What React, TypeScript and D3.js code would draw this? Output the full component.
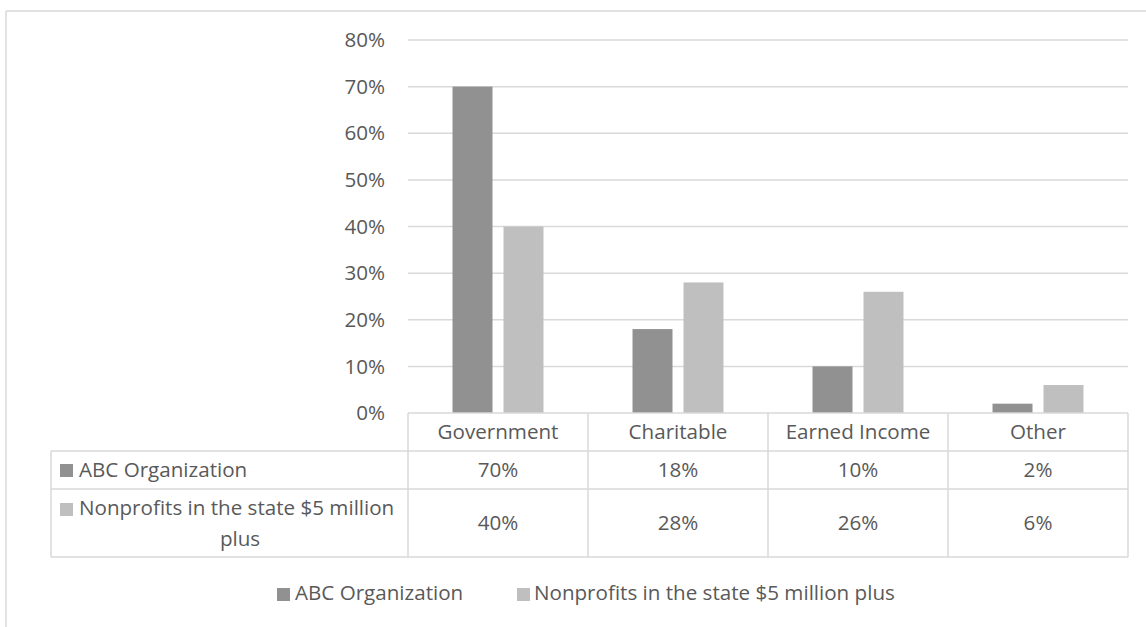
import React from "react";
import * as d3 from "d3";

const categories = ["Government", "Charitable", "Earned Income", "Other"];
const seriesNames = ["ABC Organization", "Nonprofits in the state $5 million plus"];
const abcValues = [70, 18, 10, 2];
const nonprofitValues = [40, 28, 26, 6];
const yTicks = [0, 10, 20, 30, 40, 50, 60, 70, 80];
const colors = ["#919191", "#bfbfbf"];

const W = 1146;
const H = 627;
const FONT = "'Open Sans', 'Noto Sans', sans-serif";
const TEXT = "#595959";
const LINE = "#d9d9d9";

export default function App() {
  const plotLeft = 408;
  const plotRight = 1128;
  const plotTop = 40;
  const plotBottom = 413;
  const x = d3.scaleBand<string>().domain(categories).range([plotLeft, plotRight]);
  const xs = d3
    .scaleBand<string>()
    .domain(seriesNames)
    .range([0, x.bandwidth()])
    .paddingInner(0.216)
    .paddingOuter(0.873);
  const y = d3.scaleLinear().domain([0, 80]).range([plotBottom, plotTop]);
  const series = [abcValues, nonprofitValues];

  const tableLeft = 51;
  const headerBottom = 451;
  const row1Bottom = 489;
  const row2Bottom = 557;
  const fs = 20.6;

  return (
    <svg width={W} height={H} style={{ position: "absolute", left: 0, top: 0, background: "#fff" }} fontFamily={FONT}>
      <rect x={0} y={0} width={W} height={H} fill="#fff" />
      {/* outer border */}
      <line x1={6} y1={11} x2={W} y2={11} stroke={LINE} strokeWidth={1.5} />
      <line x1={6} y1={11} x2={6} y2={H} stroke={LINE} strokeWidth={1.5} />
      {/* gridlines */}
      {yTicks.map((t) => (
        <g key={t}>
          {t > 0 && (
            <line x1={plotLeft} x2={plotRight} y1={y(t)} y2={y(t)} stroke={LINE} strokeWidth={1.5} />
          )}
          <text x={385} y={y(t)} dy="0.35em" textAnchor="end" fontSize={fs} fill={TEXT}>
            {t}%
          </text>
        </g>
      ))}
      {/* bars */}
      {series.map((vals, si) =>
        categories.map((c, ci) => (
          <rect
            key={`${si}-${ci}`}
            x={(x(c) as number) + (xs(seriesNames[si]) as number)}
            y={y(vals[ci])}
            width={xs.bandwidth()}
            height={plotBottom - y(vals[ci])}
            fill={colors[si]}
          />
        ))
      )}
      {/* table */}
      <g stroke={LINE} strokeWidth={1.5} fill="none">
        <line x1={plotLeft} x2={plotRight} y1={plotBottom} y2={plotBottom} />
        <line x1={tableLeft} x2={plotRight} y1={headerBottom} y2={headerBottom} />
        <line x1={tableLeft} x2={plotRight} y1={row1Bottom} y2={row1Bottom} />
        <line x1={tableLeft} x2={plotRight} y1={row2Bottom} y2={row2Bottom} />
        <line x1={tableLeft} x2={tableLeft} y1={headerBottom} y2={row2Bottom} />
        {categories.map((c) => (
          <line key={c} x1={x(c)} x2={x(c)} y1={plotBottom} y2={row2Bottom} />
        ))}
        <line x1={plotRight} x2={plotRight} y1={plotBottom} y2={row2Bottom} />
      </g>
      {categories.map((c, ci) => {
        const cx = (x(c) as number) + x.bandwidth() / 2;
        return (
          <g key={c} fontSize={fs} fill={TEXT} textAnchor="middle">
            <text x={cx} y={(plotBottom + headerBottom) / 2} dy="0.35em">
              {c}
            </text>
            <text x={cx} y={(headerBottom + row1Bottom) / 2} dy="0.35em">
              {abcValues[ci]}%
            </text>
            <text x={cx} y={(row1Bottom + row2Bottom) / 2} dy="0.35em">
              {nonprofitValues[ci]}%
            </text>
          </g>
        );
      })}
      {/* row headers */}
      <rect x={60} y={464} width={13} height={13} fill={colors[0]} />
      <text x={79} y={(headerBottom + row1Bottom) / 2} dy="0.35em" fontSize={fs} fill={TEXT}>
        {seriesNames[0]}
      </text>
      <rect x={60} y={503} width={13} height={13} fill={colors[1]} />
      <text x={79} y={508} dy="0.35em" fontSize={fs} fill={TEXT}>
        Nonprofits in the state $5 million
      </text>
      <text x={240} y={539} dy="0.35em" fontSize={fs} fill={TEXT} textAnchor="middle">
        plus
      </text>
      {/* legend */}
      <rect x={277} y={588} width={13} height={13} fill={colors[0]} />
      <text x={295} y={593} dy="0.35em" fontSize={fs} fill={TEXT}>
        {seriesNames[0]}
      </text>
      <rect x={517} y={588} width={13} height={13} fill={colors[1]} />
      <text x={534} y={593} dy="0.35em" fontSize={fs} fill={TEXT}>
        {seriesNames[1]}
      </text>
    </svg>
  );
}
